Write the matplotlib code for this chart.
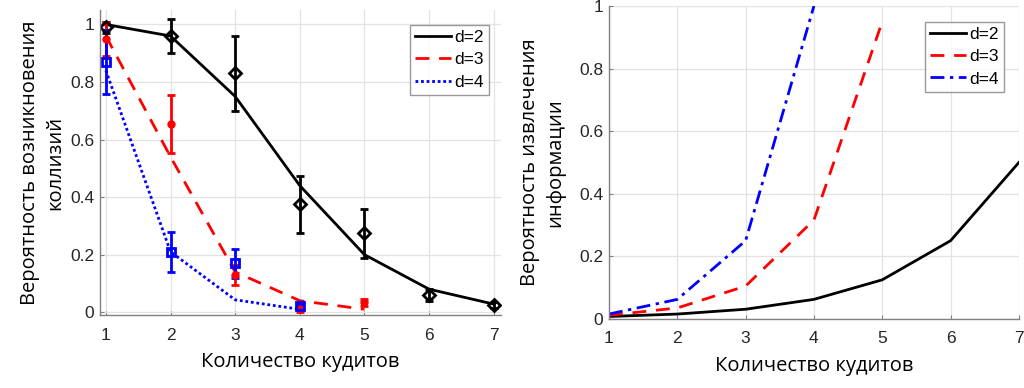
import matplotlib
matplotlib.use("Agg")
import matplotlib.pyplot as plt

plt.rcParams['font.family'] = ['Liberation Sans', 'DejaVu Sans']

# ---- data: left panel (collision probability) ----
n2 = [1, 2, 3, 4, 5, 6, 7]
theory2 = [1.0, 0.96, 0.75, 0.44, 0.20, 0.08, 0.028]
exp2 = [0.99, 0.96, 0.83, 0.375, 0.275, 0.06, 0.025]
err2 = [0.02, 0.06, 0.13, 0.10, 0.085, 0.02, 0.01]

n3 = [1, 2, 3, 4, 5]
theory3 = [0.96, 0.54, 0.14, 0.04, 0.01]
exp3 = [0.95, 0.655, 0.13, 0.01, 0.035]
err3 = [0.06, 0.10, 0.035, 0.01, 0.012]

n4 = [1, 2, 3, 4]
theory4 = [0.84, 0.21, 0.043, 0.01]
exp4 = [0.87, 0.21, 0.17, 0.02]
err4 = [0.11, 0.07, 0.05, 0.01]

# ---- data: right panel (information extraction probability) ----
r2 = [0.0078, 0.0156, 0.031, 0.0625, 0.125, 0.25, 0.5]
r3 = [0.0117, 0.035, 0.105, 0.316, 0.95]
r4 = [0.0156, 0.0625, 0.25, 1.0]

xticks = [1, 2, 3, 4, 5, 6, 7]
labels = ['d=2', 'd=3', 'd=4']
xlabel = 'Количество кудитов'
ylabel_left = 'Вероятность возникновения\nколлизий'
ylabel_right = 'Вероятность извлечения\nинформации'

fig = plt.figure(figsize=(10.24, 3.88), dpi=100)
axL = fig.add_axes([0.0977, 0.188, 0.392, 0.786])
axR = fig.add_axes([0.5947, 0.178, 0.4003, 0.8065])

tick_color = '#262626'
grid_color = '#e3e3e3'
label_font = ['Open Sans', 'DejaVu Sans']

def style(ax):
    for s in ['top', 'right']:
        ax.spines[s].set_visible(False)
    for s in ['left', 'bottom']:
        ax.spines[s].set_color('#808080')
        ax.spines[s].set_linewidth(1.0)
    ax.grid(True, color=grid_color, linewidth=0.9)
    ax.set_axisbelow(True)
    ax.tick_params(colors=tick_color, labelsize=12.5, length=3, direction='in', width=0.8)
    ax.tick_params(axis='both', color='#808080')
    ax.tick_params(axis='x', pad=9)
    ax.tick_params(axis='y', pad=4)
    ax.set_xticks(xticks)

def legend(ax, handles, anchor):
    leg = ax.legend(handles=handles, loc='upper right', fontsize=12.5,
                    bbox_to_anchor=anchor, frameon=True, fancybox=False,
                    edgecolor='#808080', handlelength=2.1, handletextpad=0.15,
                    borderpad=0.3, labelspacing=0.4, borderaxespad=0.0)
    leg.get_frame().set_linewidth(1.0)
    return leg

# left panel
l1, = axL.plot(n2, theory2, color='black', lw=2, ls='-', label=labels[0])
l2, = axL.plot(n3, theory3, color='red', lw=2, ls=(0, (5, 3.5)), label=labels[1])
l3, = axL.plot(n4, theory4, color='blue', lw=2, ls=(0, (1, 1)), label=labels[2])
axL.errorbar(n2, exp2, yerr=err2, fmt='D', color='black', mfc='none', mec='black',
             mew=2, ms=6, capsize=3, elinewidth=2, capthick=2)
axL.errorbar(n3, exp3, yerr=err3, fmt='o', color='red', mfc='red', mec='red',
             ms=5, capsize=3, elinewidth=2, capthick=2)
axL.errorbar(n4, exp4, yerr=err4, fmt='s', color='blue', mfc='none', mec='blue',
             mew=2, ms=6, capsize=3, elinewidth=2, capthick=2)
axL.set_xlim(0.91, 7.12)
axL.set_ylim(-0.01, 1.05)
axL.set_yticks([0, 0.2, 0.4, 0.6, 0.8, 1])
axL.set_yticklabels(['0', '0.2', '0.4', '0.6', '0.8', '1'])
style(axL)
axL.set_xlabel(xlabel, fontsize=14.5, family=label_font, labelpad=7)
axL.set_ylabel(ylabel_left, fontsize=14.5, family=label_font, labelpad=4, linespacing=1.35)
legend(axL, [l1, l2, l3], (0.968, 0.951))

# right panel
m1, = axR.plot(n2, r2, color='black', lw=2, ls='-', label=labels[0])
m2, = axR.plot(n3, r3, color='red', lw=2, ls=(0, (5, 3.5)), label=labels[1])
m3, = axR.plot(n4, r4, color='blue', lw=2, ls=(0, (5, 2, 1.2, 2)), label=labels[2])
axR.set_xlim(1, 7)
axR.set_ylim(0, 1)
axR.set_yticks([0, 0.2, 0.4, 0.6, 0.8, 1])
axR.set_yticklabels(['0', '0.2', '0.4', '0.6', '0.8', '1'])
style(axR)
axR.set_xlabel(xlabel, fontsize=14.5, family=label_font, labelpad=7)
axR.set_ylabel(ylabel_right, fontsize=14.5, family=label_font, labelpad=10, linespacing=1.35)
legend(axR, [m1, m2, m3], (0.963, 0.949))

fig.savefig('out.png', dpi=100)
